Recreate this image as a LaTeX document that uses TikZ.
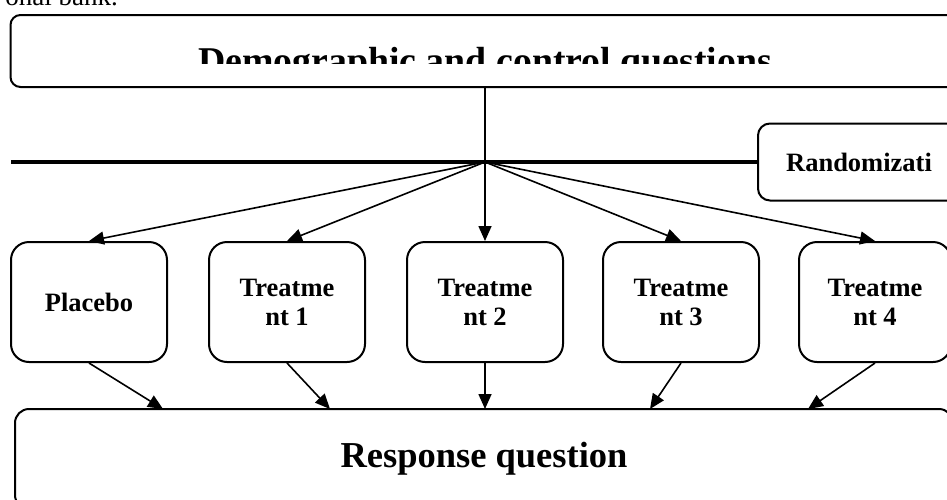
\documentclass[tikz,border=0pt]{standalone}
\usepackage{fontspec}
\setmainfont{Liberation Serif}
\usetikzlibrary{arrows.meta, positioning}
\tikzset{
    armbox/.style={rectangle, rounded corners=18pt, draw=black, line width=2pt, minimum width=156pt, minimum height=120pt, align=center, font=\fontsize{26.5}{29}\selectfont\bfseries},
    widebox/.style={rectangle, draw=black, line width=2pt},
}
\begin{document}
\begin{tikzpicture}[x=1pt, y=-1pt,
  % Connector styles
  arrow/.style={-{Triangle[length=15pt,width=13pt]}, line width=1.6pt},
  splitline/.style={line width=3.5pt}
]
\path[use as bounding box] (0,0) rectangle (947,499);
\clip (0,0) rectangle (947,499);

% Leftover line of the running text
\node[anchor=base east, inner sep=0pt, font=\fontsize{27}{30}\selectfont] (bank) at (118,5) {onal bank.};

% Top box - demographic and control questions (text cut by the frame)
\node[widebox, rounded corners=10pt, minimum width=949pt, minimum height=72pt] (demog) at (485,51) {};
\begin{scope}
  \clip (demog.north west) rectangle ([yshift=-12pt]demog.east);
  \node[anchor=base, inner sep=0pt, font=\fontsize{37.8}{44}\selectfont\bfseries] (demogtext) at (485,73) {Demographic and control questions};
\end{scope}

% Randomization split
\node[widebox, rounded corners=12pt, minimum width=202pt, minimum height=77pt, font=\fontsize{26.5}{29}\selectfont\bfseries] (rand) at (859,162) {Randomizati};
\coordinate (lstart) at (11,162);
\coordinate (hub) at (485,162);
\draw[splitline] (lstart) -- (rand.west);

% Middle row - experimental arms
\node[armbox] (treat2) at (485,302) {Treatme\\nt 2};
\node[armbox, left=40pt of treat2] (treat1) {Treatme\\nt 1};
\node[armbox, left=40pt of treat1] (placebo) {Placebo};
\node[armbox, right=38pt of treat2] (treat3) {Treatme\\nt 3};
\node[armbox, right=38pt of treat3, minimum width=152pt] (treat4) {Treatme\\nt 4};

% Bottom box - response question
\node[widebox, rounded corners=14pt, minimum width=938pt, minimum height=100pt, font=\fontsize{36.5}{40}\selectfont\bfseries] (resp) at (484,459) {Response question};
\coordinate (r0) at (163,409);
\coordinate (r1) at (330,409);
\coordinate (r2) at (485,409);
\coordinate (r3) at (650,409);
\coordinate (r4) at (808,409);

% Arrows into the arms
\draw[arrow] (demog.south) -- (treat2.north);
\foreach \arm in {placebo,treat1,treat3,treat4}
  \draw[arrow] (hub) -- (\arm.north);

% Arrows into the response question
\draw[arrow] (placebo.south) -- (r0);
\draw[arrow] (treat1.south) -- (r1);
\draw[arrow] (treat2.south) -- (r2);
\draw[arrow] (treat3.south) -- (r3);
\draw[arrow] (treat4.south) -- (r4);
\end{tikzpicture}
\end{document}
